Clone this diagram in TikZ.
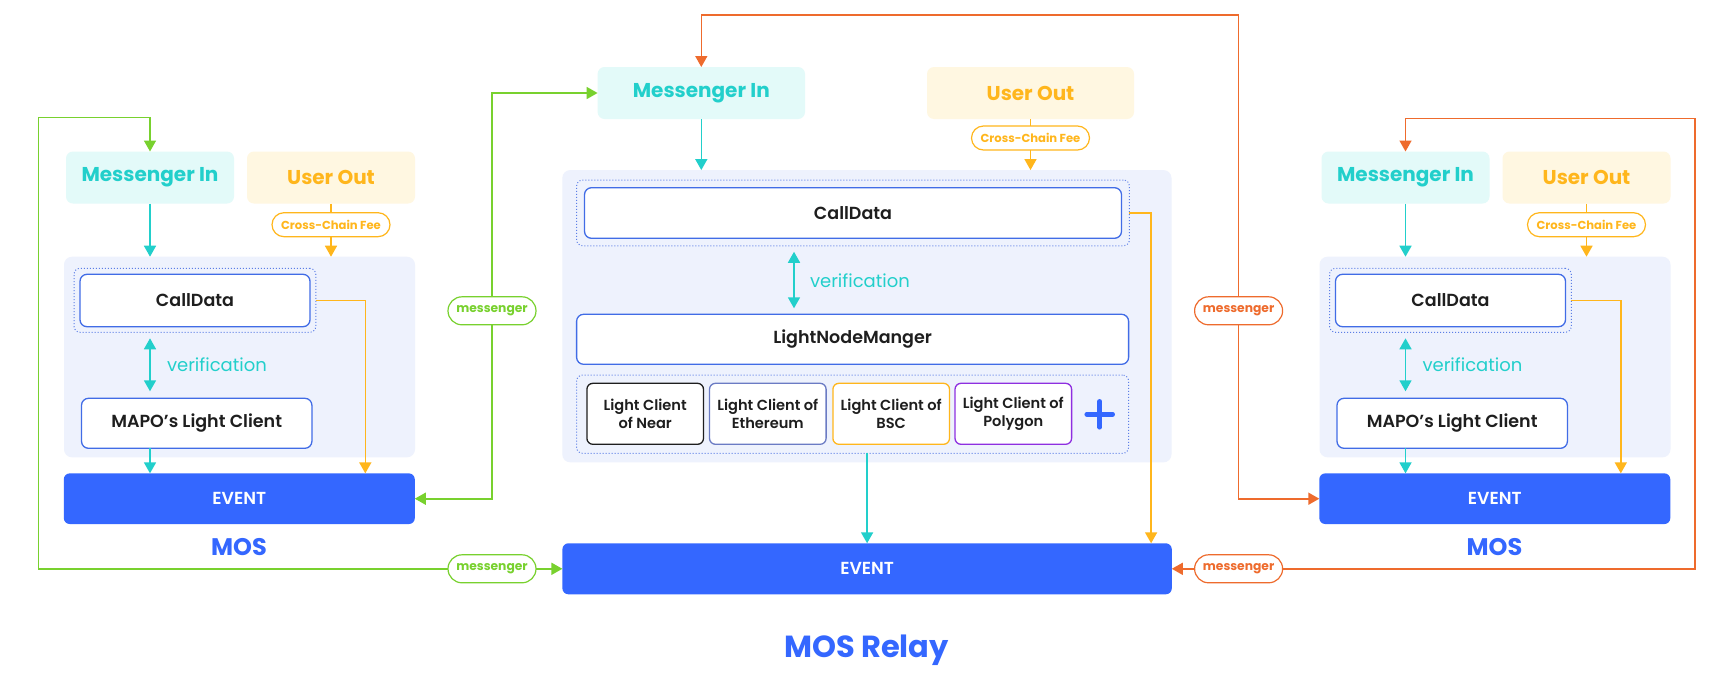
\documentclass[tikz,border=0pt]{standalone}
\usepackage{fontspec}
\setmainfont{Poppins}
\newfontfamily\semibold{Poppins SemiBold}
\usetikzlibrary{arrows.meta}

\definecolor{msgcyan}{HTML}{22CFCB}
\definecolor{msgfill}{HTML}{E3FAF9}
\definecolor{feeyel}{HTML}{FFB61C}
\definecolor{feefill}{HTML}{FFF7E1}
\definecolor{panelbg}{HTML}{EEF2FD}
\definecolor{evblue}{HTML}{3467FF}
\definecolor{boxblue}{HTML}{416CE6}
\definecolor{dotblue}{HTML}{5C7EE6}
\definecolor{linkgreen}{HTML}{78D12E}
\definecolor{linkorange}{HTML}{EE6B2D}
\definecolor{ink}{HTML}{1E1E1E}
\definecolor{ethgray}{HTML}{6B7BC4}
\definecolor{polypurple}{HTML}{8E2FE0}

\begin{document}
\begin{tikzpicture}[x=1pt, y=-1pt,
		every node/.style = {inner sep=0pt, outer sep=0pt},
		inbox/.style = {fill=msgfill, rounded corners=7pt, minimum width=168pt, minimum height=52pt,
			text=msgcyan, font=\bfseries\fontsize{20}{24}\selectfont},
		outbox/.style = {inbox, fill=feefill, text=feeyel},
		feepill/.style = {draw=feeyel, line width=1.2pt, fill=white, rounded corners=12pt,
			minimum width=118pt, minimum height=24pt, text=feeyel, font=\bfseries\fontsize{11.6}{15}\selectfont},
		panel/.style = {fill=panelbg, rounded corners=8pt},
		dotgroup/.style = {draw=dotblue, dotted, line width=1pt, rounded corners=6pt},
		databox/.style = {draw=boxblue, line width=1.3pt, fill=white, rounded corners=7pt,
			text=ink, font=\semibold\fontsize{17.5}{21}\selectfont},
		event/.style = {fill=evblue, rounded corners=6pt, text=white, font=\semibold\fontsize{17.4}{21}\selectfont},
		lcbox/.style = {draw=#1, line width=1.3pt, fill=white, rounded corners=6pt, align=center,
			minimum width=116.6pt, minimum height=61pt, text=ink, font=\semibold\fontsize{14.6}{17.5}\selectfont},
		mos/.style = {text=evblue, font=\bfseries\fontsize{24}{28}\selectfont},
		verif/.style = {anchor=west, text=msgcyan, font=\fontsize{18}{22}\selectfont},
		msgpill/.style = {draw=#1, line width=1.2pt, fill=white, rounded corners=14pt,
			minimum width=88pt, minimum height=28pt, text=#1, font=\bfseries\fontsize{12.3}{16}\selectfont},
		flow/.style = {line width=1.6pt, -{Triangle[width=12pt,length=11pt]}},
		link/.style = {line width=1.6pt, {Triangle[width=12pt,length=11pt]}-{Triangle[width=12pt,length=11pt]}}]
	\useasboundingbox[fill=white] (0,0) rectangle (1722,678);

	% source MOS
	\node[panel, minimum width=351pt, minimum height=200.6pt] (srcPanel) at (239.5,357) {};
	\node[inbox] (srcIn) at (150,177.5) {Messenger In};
	\node[outbox] (srcOut) at (331,177.5) {User Out};
	\node[feepill] (srcFee) at (331,224.7) {Cross-Chain Fee};
	\node[dotgroup, minimum width=241.7pt, minimum height=64pt] (srcCallG) at (194.9,300.3) {};
	\node[databox, minimum width=230pt, minimum height=52.4pt] (srcCall) at (195,300.5) {CallData};
	\node[databox, minimum width=230.4pt, minimum height=50pt] (srcMapo) at (196.7,423.3) {MAPO’s Light Client};
	\node[event, minimum width=351pt, minimum height=50.7pt] (srcEv) at (239.3,498.7) {EVENT};
	\node[mos] (srcMos) at (239,546.7) {MOS};
	\node[verif] (srcVer) at (167,365) {verification};

	% destination MOS
	\node[panel, minimum width=351pt, minimum height=200.6pt] (dstPanel) at (1495,357) {};
	\node[inbox] (dstIn) at (1405.5,177.5) {Messenger In};
	\node[outbox] (dstOut) at (1586.5,177.5) {User Out};
	\node[feepill] (dstFee) at (1586.5,224.7) {Cross-Chain Fee};
	\node[dotgroup, minimum width=241.7pt, minimum height=64pt] (dstCallG) at (1450.4,300.3) {};
	\node[databox, minimum width=230pt, minimum height=52.4pt] (dstCall) at (1450.5,300.5) {CallData};
	\node[databox, minimum width=230.4pt, minimum height=50pt] (dstMapo) at (1452.2,423.3) {MAPO’s Light Client};
	\node[event, minimum width=351pt, minimum height=50.7pt] (dstEv) at (1494.8,498.7) {EVENT};
	\node[mos] (dstMos) at (1494.5,546.7) {MOS};
	\node[verif] (dstVer) at (1422.5,365) {verification};

	% relay
	\node[panel, minimum width=609.2pt, minimum height=292.3pt] (relayPanel) at (866.9,316.2) {};
	\node[inbox, minimum width=207.4pt] (relayIn) at (701.3,93) {Messenger In};
	\node[outbox, minimum width=207pt] (relayOut) at (1030.5,93) {User Out};
	\node[feepill] (relayFee) at (1030.5,138) {Cross-Chain Fee};
	\node[dotgroup, minimum width=552.8pt, minimum height=65.7pt] (relayCallG) at (853,212.9) {};
	\node[databox, minimum width=537pt, minimum height=50.6pt] (relayCall) at (853,213) {CallData};
	\node[databox, minimum width=552pt, minimum height=50pt] (relayMgr) at (852.6,339.3) {LightNodeManger};
	\node[dotgroup, minimum width=552pt, minimum height=78.3pt] (relayLcG) at (852.6,414.2) {};
	\node[lcbox=ink] (lcNear) at (645.2,413.8) {Light Client\\of Near};
	\node[lcbox=ethgray] (lcEth) at (767.8,413.8) {Light Client of\\Ethereum};
	\node[lcbox=feeyel] (lcBsc) at (891.2,413.8) {Light Client of\\BSC};
	\node[lcbox=polypurple] (lcPoly) at (1013.3,413.8) {Light Client of\\Polygon};
	\node[minimum size=26pt] (lcMore) at (1099.7,414.3) {};
	\draw[evblue, line width=4.5pt, line cap=round] (lcMore.north) -- (lcMore.south) (lcMore.west) -- (lcMore.east);
	\node[event, minimum width=609.4pt, minimum height=51pt] (relayEv) at (867.1,568.8) {EVENT};
	\node[mos, font=\bfseries\fontsize{30.5}{34}\selectfont] (relayMos) at (866.5,650) {MOS Relay};
	\node[verif] (relayVer) at (810,281) {verification};
	\coordinate (relayVerX) at (794,0);

	% inside the chains
	\draw[flow, msgcyan] (srcIn.south) -- (srcIn.south |- srcPanel.north);
	\draw[feeyel, line width=1.6pt] (srcOut.south) -- (srcFee.north);
	\draw[flow, feeyel] (srcFee.south) -- (srcFee.south |- srcPanel.north);
	\draw[link, msgcyan, shorten <=6pt, shorten >=7pt] (srcCallG.south -| srcIn) -- (srcMapo.north -| srcIn);
	\draw[flow, msgcyan] (srcMapo.south -| srcIn) -- (srcEv.north -| srcIn);
	\draw[flow, feeyel] (srcCallG.east) -| ([xshift=126pt]srcEv.north);

	\draw[flow, msgcyan] (dstIn.south) -- (dstIn.south |- dstPanel.north);
	\draw[feeyel, line width=1.6pt] (dstOut.south) -- (dstFee.north);
	\draw[flow, feeyel] (dstFee.south) -- (dstFee.south |- dstPanel.north);
	\draw[link, msgcyan, shorten <=6pt, shorten >=7pt] (dstCallG.south -| dstIn) -- (dstMapo.north -| dstIn);
	\draw[flow, msgcyan] (dstMapo.south -| dstIn) -- (dstEv.north -| dstIn);
	\draw[flow, feeyel] (dstCallG.east) -| ([xshift=126pt]dstEv.north);

	\draw[flow, msgcyan] (relayIn.south) -- (relayIn.south |- relayPanel.north);
	\draw[feeyel, line width=1.6pt] (relayOut.south) -- (relayFee.north);
	\draw[flow, feeyel] (relayFee.south) -- (relayFee.south |- relayPanel.north);
	\draw[link, msgcyan, shorten <=6pt, shorten >=6pt] (relayCallG.south -| relayVerX) -- (relayMgr.north -| relayVerX);
	\draw[flow, msgcyan] (relayLcG.south -| relayEv) -- (relayEv.north);
	\draw[flow, feeyel] (relayCallG.east) -| ([xshift=284pt]relayEv.north);

	% messenger links
	\coordinate (greenOut) at (38.5,117.3);
	\coordinate (greenIn) at (492,93);
	\coordinate (orangeIn) at (1238.6,15);
	\coordinate (orangeOut) at (1695,118.3);
	\draw[link, linkgreen] (srcIn.north) |- (greenOut) |- (relayEv.west);
	\draw[link, linkgreen] (srcEv.east) -| (greenIn) -- (relayIn.west);
	\draw[link, linkorange] (relayIn.north) |- (orangeIn) |- (dstEv.west);
	\draw[link, linkorange] (dstIn.north) |- (orangeOut) |- (relayEv.east);
	\node[msgpill=linkgreen] (greenPillA) at (492,310.8) {messenger};
	\node[msgpill=linkgreen] (greenPillB) at (492,568.8) {messenger};
	\node[msgpill=linkorange] (orangePillA) at (1238.6,310.8) {messenger};
	\node[msgpill=linkorange] (orangePillB) at (1238.6,568.8) {messenger};
\end{tikzpicture}
\end{document}
